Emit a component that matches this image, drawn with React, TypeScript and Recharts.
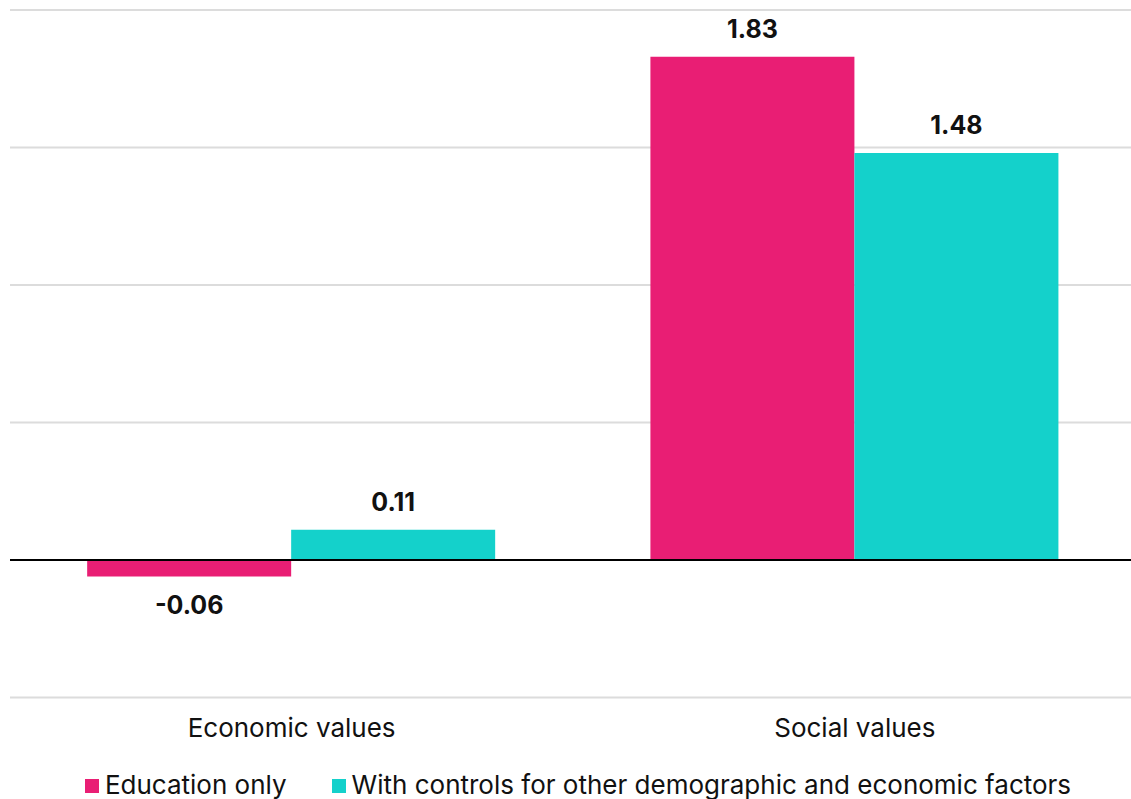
import React from 'react';
import { BarChart, Bar, XAxis, YAxis, CartesianGrid, ReferenceLine, Legend, LabelList } from 'recharts';

const categories = ['Economic values', 'Social values'];
const educationOnly = [-0.06, 1.83];
const withControls = [0.11, 1.48];
const yTicks = [-0.5, 0, 0.5, 1, 1.5, 2];

const seriesNames = ['Education only', 'With controls for other demographic and economic factors'];
const PINK = '#E91E74';
const TEAL = '#14D1CB';
const FONT = 'Inter, "Noto Sans", sans-serif';

const data = categories.map((name, i) => ({
  name,
  education: educationOnly[i],
  controls: withControls[i],
}));

const ValueLabel = (props: any) => {
  const { x, y, width, height, value } = props;
  const top = Math.min(y, y + height);
  const bottom = Math.max(y, y + height);
  const cy = value >= 0 ? top - 28 : bottom + 28;
  return (
    <text
      x={x + width / 2}
      y={cy}
      textAnchor="middle"
      dominantBaseline="central"
      fontFamily={FONT}
      fontWeight={700}
      fontSize={25}
      fill="#111"
    >
      {value.toFixed(2)}
    </text>
  );
};

const LegendContent = () => (
  <div
    style={{
      display: 'flex',
      justifyContent: 'center',
      alignItems: 'center',
      fontFamily: FONT,
      fontSize: 26,
      color: '#111',
      paddingLeft: 25,
      height: 61,
      width: 1131,
      boxSizing: 'border-box',
    }}
  >
    {[PINK, TEAL].map((c, i) => (
      <div key={i} style={{ display: 'flex', alignItems: 'center', marginRight: i === 0 ? 45 : 0 }}>
        <span style={{ width: 14, height: 14, background: c, display: 'inline-block', marginRight: 6, marginTop: 3 }} />
        <span>{seriesNames[i]}</span>
      </div>
    ))}
  </div>
);

export default function App() {
  return (
    <div style={{ position: 'fixed', top: 0, left: 0, width: 1131, height: 799, overflow: 'hidden', background: '#fff' }}>
      <BarChart
        width={1140}
        height={799}
        data={data}
        margin={{ top: 10, right: 3.5, bottom: 0, left: 10 }}
        barGap={0}
        barCategoryGap="13.7%"
      >
        <CartesianGrid horizontal vertical={false} stroke="#dcdcdc" strokeWidth={2} />
        <XAxis
          dataKey="name"
          axisLine={false}
          tickLine={false}
          height={56}
          tickMargin={15}
          tick={{ fontFamily: FONT, fontSize: 26, fill: '#111' }}
        />
        <YAxis hide domain={[-0.5, 2]} ticks={yTicks} />
        <ReferenceLine y={0} stroke="#000" strokeWidth={2} />
        <Legend
          verticalAlign="bottom"
          height={45.5}
          wrapperStyle={{ left: 0, width: 1131 }}
          content={<LegendContent />}
        />
        <Bar dataKey="education" fill={PINK} isAnimationActive={false}>
          <LabelList dataKey="education" content={<ValueLabel />} />
        </Bar>
        <Bar dataKey="controls" fill={TEAL} isAnimationActive={false}>
          <LabelList dataKey="controls" content={<ValueLabel />} />
        </Bar>
      </BarChart>
    </div>
  );
}
